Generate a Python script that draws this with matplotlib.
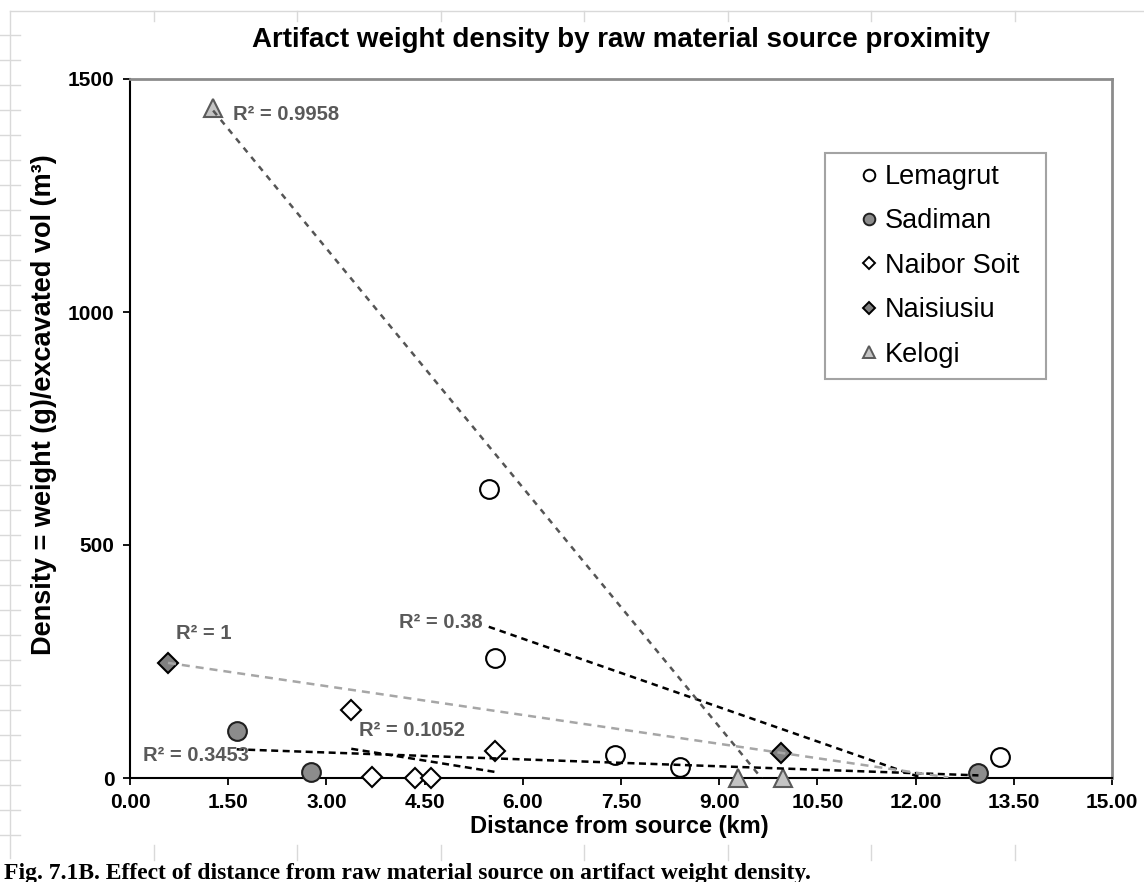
import numpy as np
import matplotlib.pyplot as plt
from matplotlib.lines import Line2D

plt.rcParams['font.family'] = ['Liberation Sans', 'DejaVu Sans']

# distance from source (km) / density (g per m3) for each raw material
lemagrut_x = [5.48, 5.58, 7.41, 8.40, 13.29]
lemagrut_y = [620, 258, 49, 24, 46]
sadiman_x = [1.63, 2.77, 12.96]
sadiman_y = [101, 12, 10]
naibor_x = [3.38, 3.70, 4.35, 4.60, 5.58]
naibor_y = [146, 3, 0, 0, 58]
naisiusiu_x = [0.58, 9.94]
naisiusiu_y = [247, 54]
kelogi_x = [1.27, 9.29, 9.97]
kelogi_y = [1437, 0, 0]

series_names = ['Lemagrut', 'Sadiman', 'Naibor Soit', 'Naisiusiu', 'Kelogi']
r2_labels = ['R² = 0.38', 'R² = 0.3453', 'R² = 0.1052', 'R² = 1', 'R² = 0.9958']
x_ticks = [0, 1.5, 3, 4.5, 6, 7.5, 9, 10.5, 12, 13.5, 15]
y_ticks = [0, 500, 1000, 1500]

W, H = 1144, 882
fig = plt.figure(figsize=(W / 100, H / 100), dpi=100)

# faint worksheet cell lines around the chart object
bg = fig.add_axes([0, 0, 1, 1], zorder=0)
bg.set_xlim(0, W)
bg.set_ylim(H, 0)
bg.axis('off')
gc = '#d9d9d9'
bg.plot([10, 10], [11, 858], color=gc, lw=1)
bg.plot([10, W], [11, 11], color=gc, lw=1)
for yy in np.arange(35, 850, 25):
    bg.plot([0, 20], [yy, yy], color=gc, lw=1)
for xx in 10 + 143.5 * np.arange(1, 8):
    bg.plot([xx, xx], [11, 21], color=gc, lw=1)
    bg.plot([xx, xx], [845, 860], color=gc, lw=1)

ax = fig.add_axes([130 / W, 1 - 778 / H, 982 / W, 699 / H], zorder=1)
ax.set_xlim(0, 15)
ax.set_ylim(0, 1500)

styles = [
    # x, y, marker, size, face, edge, line colour, dashes, extend-to
    (lemagrut_x, lemagrut_y, 'o', 13.5, 'white', 'black', 'black', (2.6, 2.0), None),
    (sadiman_x, sadiman_y, 'o', 13.5, '#8c8c8c', '#202020', 'black', (2.8, 1.8), None),
    (naibor_x, naibor_y, 'D', 10.5, 'white', 'black', 'black', (2.8, 1.8), None),
    (naisiusiu_x, naisiusiu_y, 'D', 10.5, '#808080', 'black', '#a6a6a6', (3.2, 2.4), 12.5),
    (kelogi_x, kelogi_y, '^', 13.5, '#c4c4c4', '#5a5a5a', '#555555', (2.4, 2.4), None),
]

handles = []
for name, (xs, ys, mk, ms, fc, ec, lc, dash, x_end) in zip(series_names, styles):
    ax.plot(xs, ys, ls='none', marker=mk, ms=ms, mfc=fc, mec=ec, mew=1.5,
            clip_on=False, zorder=3)
    # linear trend line over the range of the series
    slope, icpt = np.polyfit(xs, ys, 1)
    x0 = min(xs)
    x1 = max(xs) if x_end is None else x_end
    ax.plot([x0, x1], [icpt + slope * x0, icpt + slope * x1], color=lc,
            lw=1.8, ls=(0, dash), zorder=4)
    handles.append(Line2D([], [], ls='none', marker=mk, ms=ms * 0.62,
                          mfc=fc, mec=ec, mew=1.4, label=name))

lab = dict(color='#595959', fontsize=14.5, fontweight='bold', va='center', zorder=5)
ax.text(5.39, 333, r2_labels[0], ha='right', **lab)
ax.text(0.20, 49, r2_labels[1], ha='left', **lab)
ax.text(3.50, 101, r2_labels[2], ha='left', **lab)
ax.text(0.70, 311, r2_labels[3], ha='left', **lab)
ax.text(1.57, 1423, r2_labels[4], ha='left', **lab)

ax.set_xticks(x_ticks)
ax.set_xticklabels([f'{t:.2f}' for t in x_ticks])
ax.set_yticks(y_ticks)
ax.tick_params(axis='both', direction='out', length=5, width=1.3,
               labelsize=15, pad=6)
for t in ax.get_xticklabels() + ax.get_yticklabels():
    t.set_fontweight('bold')

for side in ['left', 'bottom']:
    ax.spines[side].set_color('black')
    ax.spines[side].set_linewidth(1.5)
for side in ['top', 'right']:
    ax.spines[side].set_color('#8c8c8c')
    ax.spines[side].set_linewidth(2)

leg = ax.legend(handles=handles, loc='upper left',
                bbox_to_anchor=(0.7077, 0.5737, 0.2251, 0.3205), mode='expand',
                fontsize=19.5, frameon=True, fancybox=False, handlelength=2.4,
                handletextpad=-0.6, labelspacing=0.68, borderpad=0.41,
                borderaxespad=0)
leg.get_frame().set_edgecolor('#8c8c8c')
leg.get_frame().set_linewidth(1.5)

fig.text(621 / W, 1 - 40 / H,
         'Artifact weight density by raw material source proximity',
         ha='center', va='center', fontsize=20, fontweight='bold')
fig.text(44 / W, 1 - 405 / H, 'Density = weight (g)/excavated vol (m³)',
         ha='center', va='center', rotation=90, fontsize=19.5, fontweight='bold')
fig.text(619 / W, 1 - 826 / H, 'Distance from source (km)',
         ha='center', va='center', fontsize=17, fontweight='bold')
fig.text(4 / W, 1 - 879 / H,
         'Fig. 7.1B. Effect of distance from raw material source on artifact weight density.',
         ha='left', va='baseline', fontsize=17, fontweight='bold',
         family='Liberation Serif')

fig.savefig('out.png', dpi=100)
